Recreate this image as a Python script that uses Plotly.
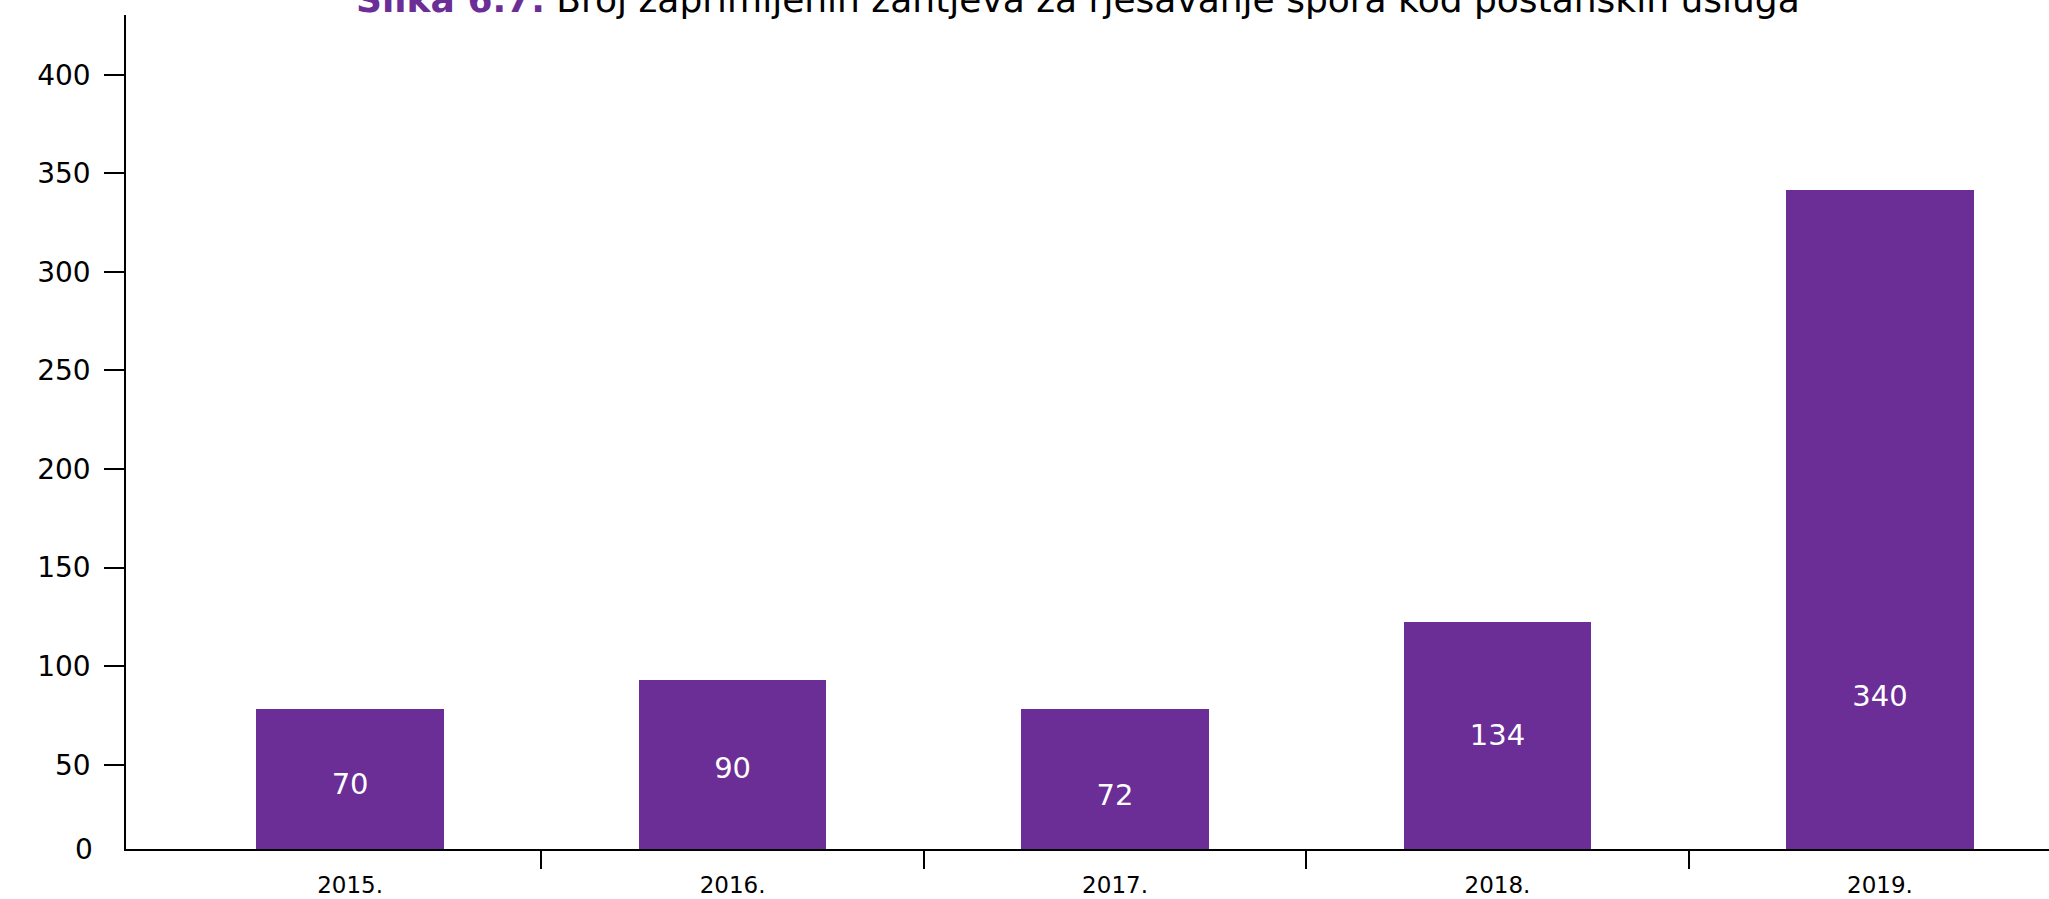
import plotly.graph_objects as go

# ---- data ----
years = ["2015.", "2016.", "2017.", "2018.", "2019."]
bar_values = [78.2, 92.9, 78.2, 122.3, 341.5]      # bar heights as drawn
label_texts = ["70", "90", "72", "134", "340"]      # printed value labels
label_y = [39.1, 47.2, 33.2, 63.5, 83.3]            # where the labels sit (axis units)
y_tick_vals = [50, 100, 150, 200, 250, 300, 350, 400]
y_tick_text = ["50", "100", "150", "200", "250", "300", "350", "400"]
y_min, y_max = 7.3, 430.3

title_bold = "Slika 6.7."
title_rest = "Broj zaprimljenih zahtjeva za rješavanje spora kod poštanskih usluga"

PURPLE = "#6B2D96"
FONT = "DejaVu Sans"

x_idx = list(range(len(years)))
boundaries = [i + 0.5 for i in x_idx[:-1]]

fig = go.Figure()
fig.add_trace(go.Bar(
    x=x_idx, y=bar_values, width=0.49,
    marker=dict(color=PURPLE, line=dict(width=0)),
    hoverinfo="skip", showlegend=False,
))
fig.add_trace(go.Scatter(
    x=x_idx, y=label_y, text=label_texts, mode="text",
    textposition="middle center",
    textfont=dict(family=FONT, size=29, color="white"),
    hoverinfo="skip", showlegend=False,
))

fig.add_annotation(
    text=f"<b><span style='color:{PURPLE}'>{title_bold}</span></b> {title_rest}",
    xref="paper", yref="paper", x=0.495, y=1, xanchor="center", yanchor="bottom",
    yshift=-7, showarrow=False,
    font=dict(family=FONT, size=36, color="black"),
)
fig.add_annotation(
    text="0", xref="paper", yref="y", x=0, y=y_min, xanchor="right", yanchor="middle",
    xshift=-31, showarrow=False,
    font=dict(family=FONT, size=28, color="black"),
)

fig.update_layout(
    width=2049, height=899,
    margin=dict(l=126, r=0, t=15, b=50, pad=0, autoexpand=False),
    paper_bgcolor="white", plot_bgcolor="white",
    bargap=0,
    font=dict(family=FONT, color="black"),
)
fig.update_xaxes(
    range=[-0.586, 4.442], automargin=False,
    tickmode="array", tickvals=x_idx, ticktext=years,
    ticks="", showgrid=False, zeroline=False,
    showline=True, linecolor="black", linewidth=2,
    tickfont=dict(family=FONT, size=23, color="black"),
    minor=dict(tickmode="array", tickvals=boundaries, ticks="outside",
               ticklen=18, tickwidth=1.5, tickcolor="black", showgrid=False),
    ticklabelstandoff=14,
)
fig.update_yaxes(
    range=[y_min, y_max], automargin=False,
    tickmode="array", tickvals=y_tick_vals, ticktext=y_tick_text,
    ticks="outside", ticklen=20, tickwidth=1.5, tickcolor="black",
    showgrid=False, zeroline=False,
    showline=True, linecolor="black", linewidth=1.5,
    tickfont=dict(family=FONT, size=28, color="black"),
    ticklabelstandoff=8,
)

fig.write_html("out.html", config={"displayModeBar": False},
               post_script="document.body.style.margin='0';")
